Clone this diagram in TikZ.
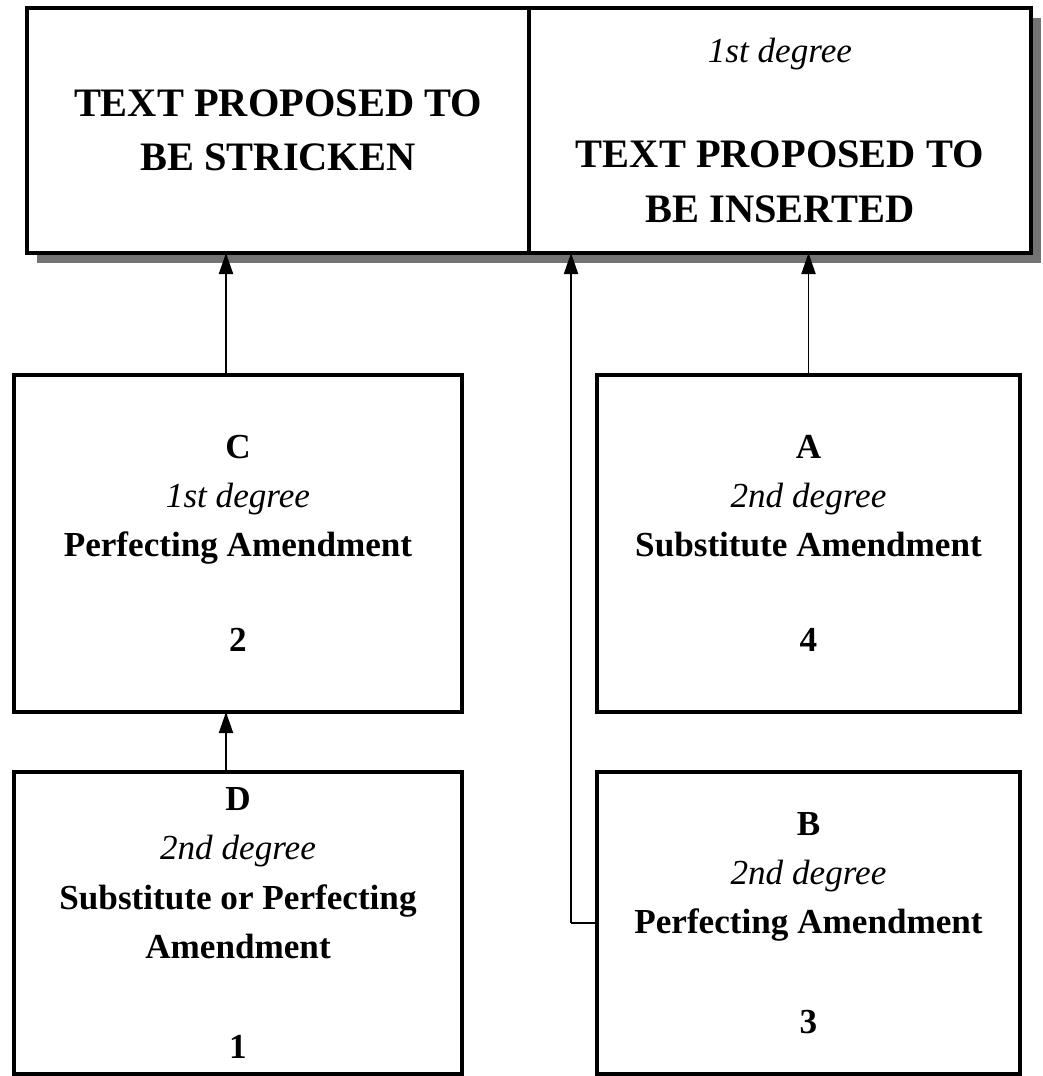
\documentclass[tikz,border=0pt]{standalone}
\usepackage{fontspec}
\setmainfont{Liberation Serif}
\usetikzlibrary{positioning,shadows,arrows.meta}

\begin{document}
\begin{tikzpicture}[x=0.02cm, y=0.02cm,
    topbox/.style={draw, line width=2pt, fill=white, outer sep=0pt,
        minimum width=10.04cm, minimum height=4.9cm, align=center,
        font=\fontsize{23}{31}\selectfont\bfseries,
        drop shadow={shadow xshift=0.2cm, shadow yshift=-0.2cm, fill=black!55, opacity=1}},
    amdbox/.style={draw, line width=1.9pt, fill=white, outer sep=0pt, align=center,
        font=\fontsize{20}{28}\selectfont\bfseries},
    link/.style={line width=1.1pt, -{Triangle[length=12pt,width=8pt]}}]
    % Page size
    \useasboundingbox (0,0) rectangle (1043,1076);
    % The text of the bill
    \node[topbox] (strick) at (278,945.5) {TEXT PROPOSED TO\\BE STRICKEN};
    \node[topbox, right=0pt of strick] (ins)
        {{\fontsize{20}{28}\selectfont\mdseries\itshape 1st degree}\\[29pt]TEXT PROPOSED TO\\BE INSERTED};
    % The amendments
    \node[amdbox, minimum width=8.96cm, minimum height=6.74cm] (C) at (238,532.5)
        {C\\{\mdseries\itshape 1st degree}\\Perfecting Amendment\\[26pt]2};
    \node[amdbox, minimum width=8.46cm, minimum height=6.74cm] (A) at (808.5,532.5)
        {A\\{\mdseries\itshape 2nd degree}\\Substitute Amendment\\[26pt]4};
    \node[amdbox, minimum width=8.96cm, minimum height=6.04cm] (D) at (238,153)
        {D\\{\mdseries\itshape 2nd degree}\\Substitute or Perfecting\\Amendment\\[29pt]1};
    \node[amdbox, minimum width=8.46cm, minimum height=6.04cm] (B) at (808.5,153)
        {B\\{\mdseries\itshape 2nd degree}\\Perfecting Amendment\\[29pt]3};
    % Arrows
    \coordinate (cup) at ([xshift=-0.24cm]C.north);
    \coordinate (dup) at ([xshift=-0.24cm]D.north);
    \draw[link] (cup) -- (cup |- strick.south);
    \draw[link] (A.north) -- (A.north |- ins.south);
    \draw[link] (dup) -- (dup |- C.south);
    \draw[line width=1.1pt] (B.west) -- ++(-26,0) coordinate (bend);
    \draw[link] (bend) -- (bend |- ins.south);
\end{tikzpicture}
\end{document}
